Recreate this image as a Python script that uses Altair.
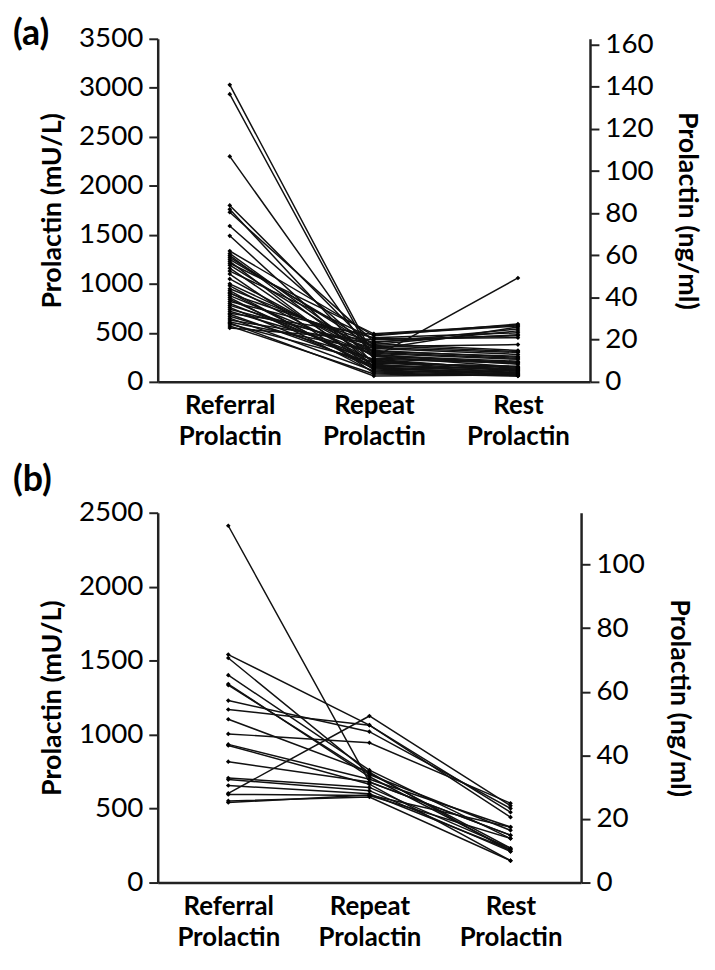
import altair as alt
import pandas as pd

stages = ["Referral Prolactin", "Repeat Prolactin", "Rest Prolactin"]
conv = 21.5  # mU/L per ng/ml

# Panel (a)
ref_a = [3030, 2935, 2300, 1800, 1760, 1730, 1590, 1490, 1335, 1310, 1290, 1270, 1250, 1230, 1210,
         1190, 1160, 1130, 1100, 1000, 980, 950, 930, 900, 880, 860, 840, 820, 800, 780,
         760, 720, 700, 690, 670, 650, 630, 610, 590, 570, 550, 1050, 910, 740, 600]
rep_a = [260, 230, 240, 330, 180, 410, 300, 150, 470, 250, 200, 350, 380, 120, 490,
         280, 160, 440, 90, 310, 210, 360, 130, 400, 270, 100, 190, 450, 220, 340,
         140, 290, 480, 170, 230, 110, 390, 320, 200, 80, 430, 260, 150, 370, 60]
rest_a = [150, 120, 200, 560, 90, 480, 240, 70, 590, 1060, 110, 300, 520, 80, 580,
          180, 130, 450, 60, 260, 140, 380, 100, 540, 210, 70, 160, 500, 120, 280,
          90, 230, 570, 130, 190, 80, 320, 250, 150, 60, 470, 200, 110, 310, 70]

# Panel (b)
ref_b = [2412, 1541, 1518, 1402, 1342, 1335, 1230, 1170, 1104, 1005, 934, 927, 817, 707, 696,
         656, 603, 596, 552, 541]
rep_b = [680, 1064, 740, 760, 715, 730, 1020, 1064, 746, 945, 698, 665, 680, 643, 621,
         600, 1126, 589, 578, 592]
rest_b = [320, 442, 232, 298, 221, 353, 501, 475, 210, 536, 375, 148, 320, 232, 210,
          221, 519, 298, 148, 375]

ticks_a_mu = [0, 500, 1000, 1500, 2000, 2500, 3000, 3500]
ticks_a_ng = [0, 20, 40, 60, 80, 100, 120, 140, 160]
ticks_b_mu = [0, 500, 1000, 1500, 2000, 2500]
ticks_b_ng = [0, 20, 40, 60, 80, 100]

FONT = "Lato"


def to_long(ref, rep, rest):
    rows = []
    for i, vals in enumerate(zip(ref, rep, rest)):
        for s, v in zip(stages, vals):
            rows.append({"pid": i, "stage": s, "mu": v})
    return pd.DataFrame(rows)


def panel(ref, rep, rest, ymax, mu_ticks, ng_ticks, w, h, label, label_y):
    df = to_long(ref, rep, rest)
    x = alt.X("stage:N", sort=stages,
              axis=alt.Axis(title=None, labelAngle=0, labelExpr="split(datum.label, ' ')",
                            ticks=False, tickSize=0, labelFontWeight="bold", labelFontSize=26,
                            labelPadding=11, labelLineHeight=31, domainWidth=2.5,
                            labelColor="black", domainColor="#222"))
    yl = alt.Y("mu:Q", scale=alt.Scale(domain=[0, ymax], nice=False, zero=True),
               axis=alt.Axis(title="Prolactin (mU/L)", orient="left", values=mu_ticks,
                             format="d", titlePadding=12))
    base = alt.Chart(df)
    lines = base.mark_line(color="#111", strokeWidth=1.5).encode(x=x, y=yl, detail="pid:N")
    pts = base.mark_point(shape="diamond", filled=True, color="#000", size=22, opacity=1).encode(
        x=x, y="mu:Q")
    lab = alt.Chart(pd.DataFrame({"t": [label]})).mark_text(
        font=FONT, fontSize=36, fontWeight="bold", align="left", baseline="middle", color="black"
    ).encode(x=alt.value(-146), y=alt.value(label_y), text="t:N")
    left = alt.layer(lines, pts, lab)
    right = base.transform_calculate(ng=f"datum.mu / {conv}").mark_point(opacity=0).encode(
        x=x,
        y=alt.Y("ng:Q", scale=alt.Scale(domain=[0, ymax / conv], nice=False, zero=True),
                axis=alt.Axis(title="Prolactin (ng/ml)", orient="right", values=ng_ticks,
                              format="d", titlePadding=20)))
    return alt.layer(left, right).resolve_scale(y="independent").properties(width=w, height=h)


pa = panel(ref_a, rep_a, rest_a, 3500, ticks_a_mu, ticks_a_ng, 436, 346, "(a)", -5)
pb = panel(ref_b, rep_b, rest_b, 2500, ticks_b_mu, ticks_b_ng, 427, 373, "(b)", -33)

chart = alt.vconcat(pa, pb, spacing=13).properties(
    padding={"left": 5, "top": 4, "right": 6, "bottom": 0}
).configure_view(stroke=None).configure_axis(
    labelFont=FONT, titleFont=FONT, labelFontSize=28, titleFontSize=27, titleFontWeight="bold",
    labelColor="black", titleColor="black", domainColor="#222", tickColor="#222",
    domainWidth=2.5, tickWidth=2, tickSize=9, labelPadding=6, grid=False
)

chart.save("out.html", embed_options={"renderer": "svg", "actions": False})
